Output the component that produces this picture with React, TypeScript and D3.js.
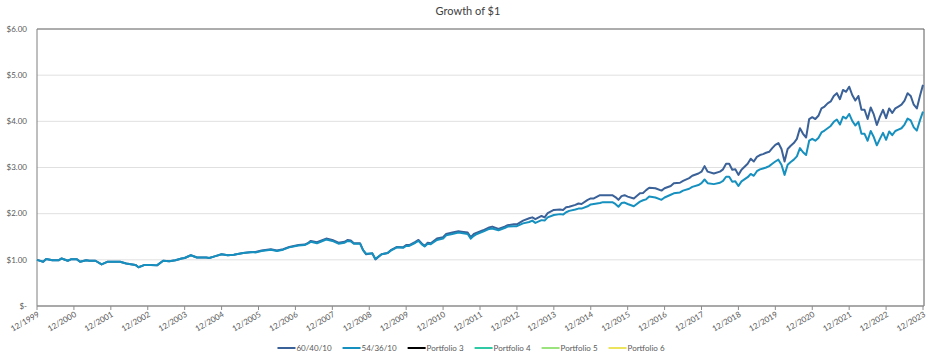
import React, { useEffect } from "react";
import * as d3 from "d3";

const dates = [
  "1999-12",
  "2000-02","2000-03","2000-05","2000-07","2000-08","2000-10","2000-11",
  "2001-01","2001-02","2001-04","2001-05","2001-07","2001-09","2001-11",
  "2002-01","2002-03","2002-05","2002-06","2002-08","2002-09","2002-11",
  "2003-01","2003-03","2003-05","2003-07","2003-09","2003-11","2003-12",
  "2004-02","2004-04","2004-07","2004-08","2004-10","2004-12",
  "2005-02","2005-04","2005-07","2005-10","2005-11",
  "2006-01","2006-04","2006-06","2006-08","2006-10",
  "2007-01","2007-03","2007-04","2007-05","2007-07","2007-10","2007-12",
  "2008-02","2008-04","2008-05","2008-06","2008-07","2008-09","2008-10","2008-11",
  "2009-01","2009-02","2009-04","2009-06","2009-07","2009-09","2009-11","2009-12",
  "2010-01","2010-03","2010-04","2010-05","2010-06","2010-07","2010-08","2010-10","2010-12",
  "2011-01","2011-03","2011-05","2011-06","2011-08","2011-09","2011-10","2011-11",
  "2012-01","2012-03","2012-04","2012-06","2012-08","2012-09","2012-11","2012-12",
  "2013-02","2013-04","2013-05","2013-06","2013-08","2013-09","2013-10","2013-12",
  "2014-02","2014-03","2014-04","2014-05","2014-07","2014-08","2014-09","2014-11","2014-12",
  "2015-01","2015-03","2015-04","2015-06","2015-07","2015-08","2015-09","2015-10","2015-11","2015-12",
  "2016-02","2016-04","2016-05","2016-06","2016-07","2016-09","2016-11","2016-12",
  "2017-02","2017-03","2017-05","2017-06","2017-08","2017-09","2017-11","2017-12",
  "2018-01","2018-02","2018-04","2018-06","2018-07","2018-08","2018-09","2018-10","2018-11","2018-12",
  "2019-01","2019-03","2019-04","2019-05","2019-06","2019-07","2019-08","2019-09","2019-10","2019-11","2019-12",
  "2020-01","2020-02","2020-03","2020-04","2020-05","2020-06","2020-07","2020-08","2020-09","2020-10","2020-11","2020-12",
  "2021-01","2021-02","2021-03","2021-04","2021-05","2021-06","2021-07","2021-08","2021-09","2021-10","2021-11","2021-12",
  "2022-01","2022-02","2022-03","2022-04","2022-05","2022-06","2022-07","2022-08","2022-09","2022-10","2022-11","2022-12",
  "2023-01","2023-02","2023-03","2023-04","2023-05","2023-06","2023-07","2023-08","2023-09","2023-10","2023-11","2023-12",
];

const series604010 = [
  1.00,
  0.96,1.02,0.99,0.99,1.03,0.98,1.01,
  1.01,0.96,0.99,0.98,0.98,0.90,0.96,
  0.96,0.96,0.92,0.91,0.89,0.84,0.89,
  0.89,0.88,0.98,0.97,0.99,1.03,1.04,
  1.10,1.05,1.05,1.04,1.08,1.12,
  1.10,1.11,1.15,1.17,1.17,
  1.20,1.23,1.20,1.23,1.28,
  1.32,1.33,1.36,1.41,1.38,1.46,1.43,
  1.37,1.39,1.43,1.42,1.36,1.36,1.21,1.12,
  1.14,1.01,1.12,1.15,1.21,1.28,1.27,1.32,
  1.32,1.39,1.43,1.36,1.30,1.37,1.36,1.46,1.49,
  1.56,1.59,1.62,1.61,1.59,1.49,1.56,1.59,
  1.64,1.70,1.72,1.67,1.72,1.75,1.77,1.77,
  1.85,1.90,1.92,1.88,1.95,1.92,2.01,2.08,
  2.09,2.08,2.14,2.15,2.19,2.22,2.21,2.30,2.33,
  2.33,2.40,2.40,2.40,2.40,2.36,2.30,2.38,2.40,2.37,
  2.33,2.44,2.45,2.51,2.56,2.55,2.50,2.55,
  2.60,2.66,2.67,2.71,2.77,2.82,2.87,2.91,
  3.03,2.91,2.87,2.91,2.96,3.08,3.08,2.95,2.96,2.84,
  2.95,3.08,3.19,3.13,3.23,3.27,3.29,3.32,3.34,3.42,3.49,
  3.53,3.40,3.13,3.40,3.47,3.53,3.62,3.85,3.73,3.65,4.05,4.09,
  4.05,4.12,4.28,4.32,4.39,4.43,4.55,4.61,4.48,4.68,4.64,4.75,
  4.57,4.45,4.55,4.25,4.25,4.05,4.30,4.15,3.92,4.10,4.25,4.07,
  4.28,4.18,4.28,4.32,4.36,4.45,4.61,4.55,4.36,4.28,4.55,4.79,
];

const series543610 = [
  1.00,
  0.96,1.02,0.99,0.99,1.03,0.98,1.01,
  1.01,0.96,0.99,0.98,0.98,0.90,0.96,
  0.96,0.96,0.92,0.91,0.89,0.84,0.89,
  0.89,0.88,0.98,0.97,0.99,1.03,1.04,
  1.10,1.05,1.05,1.04,1.08,1.12,
  1.10,1.11,1.15,1.17,1.16,
  1.19,1.22,1.19,1.22,1.27,
  1.31,1.32,1.35,1.39,1.36,1.44,1.41,
  1.35,1.37,1.41,1.40,1.35,1.35,1.21,1.13,
  1.14,1.02,1.12,1.15,1.20,1.27,1.26,1.30,
  1.30,1.37,1.41,1.34,1.29,1.35,1.34,1.43,1.46,
  1.53,1.56,1.59,1.58,1.56,1.46,1.52,1.56,
  1.61,1.67,1.68,1.64,1.69,1.72,1.73,1.73,
  1.79,1.82,1.85,1.80,1.86,1.85,1.92,1.97,
  1.99,1.98,2.03,2.06,2.09,2.11,2.11,2.16,2.20,
  2.21,2.23,2.25,2.25,2.25,2.21,2.15,2.23,2.24,2.21,
  2.16,2.26,2.29,2.31,2.37,2.35,2.30,2.35,
  2.41,2.44,2.46,2.50,2.54,2.58,2.62,2.66,
  2.74,2.66,2.64,2.67,2.71,2.80,2.80,2.69,2.70,2.60,
  2.70,2.79,2.86,2.82,2.92,2.96,2.98,3.00,3.03,3.08,3.13,
  3.17,3.06,2.84,3.06,3.12,3.17,3.24,3.42,3.33,3.27,3.58,3.62,
  3.58,3.64,3.76,3.80,3.85,3.90,3.99,4.04,3.93,4.10,4.06,4.16,
  4.01,3.91,3.99,3.73,3.73,3.58,3.79,3.66,3.48,3.62,3.75,3.60,
  3.78,3.70,3.79,3.82,3.85,3.93,4.06,4.02,3.87,3.80,4.02,4.21,
];

const yTickValues = [0, 1, 2, 3, 4, 5, 6];
const yTickLabels = ["$-", "$1.00", "$2.00", "$3.00", "$4.00", "$5.00", "$6.00"];
const xTickLabels = [
  "12/1999","12/2000","12/2001","12/2002","12/2003","12/2004","12/2005","12/2006",
  "12/2007","12/2008","12/2009","12/2010","12/2011","12/2012","12/2013","12/2014",
  "12/2015","12/2016","12/2017","12/2018","12/2019","12/2020","12/2021","12/2022","12/2023",
];
const legendNames = ["60/40/10", "54/36/10", "Portfolio 3", "Portfolio 4", "Portfolio 5", "Portfolio 6"];
const legendColors = ["#3a6198", "#1690bf", "#000000", "#2fc9a5", "#9be37c", "#ece45c"];

const FONT = "Lato, 'Open Sans', sans-serif";

function toMonth(d: string) {
  const [yy, mm] = d.split("-").map(Number);
  return (yy - 1999) * 12 + mm - 12;
}

function measure(text: string, size: number) {
  const c = document.createElement("canvas").getContext("2d");
  if (!c) return text.length * size * 0.55;
  c.font = `${size}px Lato`;
  return c.measureText(text).width;
}

export default function App() {
  useEffect(() => {
    document.body.style.margin = "0";
  }, []);

  const W = 936, H = 358;
  const left = 37, right = 923, top = 29, bottom = 306;
  const monthIdx = dates.map(toMonth);
  const x = d3.scaleLinear().domain([0, 288]).range([left, right]);
  const y = d3.scaleLinear().domain([0, 6]).range([bottom, top]);
  const line = d3
    .line<number>()
    .x((_, i) => x(monthIdx[i]))
    .y((d) => y(d));

  const xTicks = xTickLabels.map((lab, i) => ({ lab, m: i * 12 }));

  // legend layout
  const lfs = 8;
  const swatch = 18;
  const itemGap = 11;
  const widths = legendNames.map((n) => swatch + 1 + measure(n, lfs));
  const total = widths.reduce((a, b) => a + b, 0) + itemGap * (legendNames.length - 1);
  let cx = 471 - total / 2;
  const legendItems = legendNames.map((n, i) => {
    const it = { n, c: legendColors[i], x0: cx };
    cx += widths[i] + itemGap;
    return it;
  });
  const legendY = 348;

  return (
    <svg width={W} height={H} style={{ display: "block", fontFamily: FONT }}>
      <rect x={0} y={0} width={W} height={H} fill="#ffffff" />
      <text x={468} y={15} textAnchor="middle" fontSize={11} fill="#404040">
        Growth of $1
      </text>
      {yTickValues.slice(1, 6).map((v) => (
        <line key={v} x1={left} x2={right} y1={y(v)} y2={y(v)} stroke="#e0e0e0" strokeWidth={1} />
      ))}
      {yTickValues.map((v, i) => (
        <text key={v} x={27} y={y(v)} dy="0.35em" textAnchor="end" fontSize={8} fill="#595959">
          {yTickLabels[i]}
        </text>
      ))}
      <line x1={left} x2={right + 1} y1={top} y2={top} stroke="#5a5a5a" strokeWidth={1} />
      <line x1={right + 1} x2={right + 1} y1={top} y2={bottom} stroke="#5a5a5a" strokeWidth={1} />
      <line x1={left} x2={left} y1={top} y2={bottom} stroke="#7f7f7f" strokeWidth={1} />
      <line x1={left} x2={right + 1} y1={bottom} y2={bottom} stroke="#8c8c8c" strokeWidth={1.5} />
      {xTicks.map((t) => (
        <g key={t.lab}>
          <line x1={x(t.m)} x2={x(t.m)} y1={bottom} y2={bottom + 4} stroke="#8c8c8c" strokeWidth={1} />
          <text
            transform={`translate(${x(t.m) + 3},${bottom + 10}) rotate(-30)`}
            textAnchor="end"
            fontSize={8}
            fill="#595959"
          >
            {t.lab}
          </text>
        </g>
      ))}
      <path d={line(series604010) || ""} fill="none" stroke={legendColors[0]} strokeWidth={2} strokeLinejoin="round" />
      <path d={line(series543610) || ""} fill="none" stroke={legendColors[1]} strokeWidth={2} strokeLinejoin="round" />
      {legendItems.map((it) => (
        <g key={it.n}>
          <line x1={it.x0} x2={it.x0 + swatch} y1={legendY} y2={legendY} stroke={it.c} strokeWidth={2} />
          <text x={it.x0 + swatch + 1} y={legendY} dy="0.35em" fontSize={lfs} fill="#595959">
            {it.n}
          </text>
        </g>
      ))}
    </svg>
  );
}
